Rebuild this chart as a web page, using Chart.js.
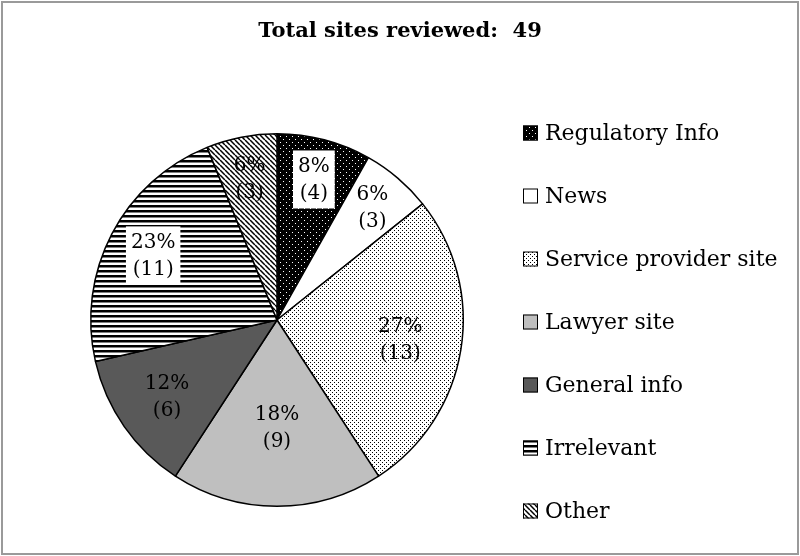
<!DOCTYPE html>
<html>
<head>
<meta charset="utf-8">
<script src="https://cdn.jsdelivr.net/npm/chart.js@4.4.0/dist/chart.umd.min.js"></script>
<style>
  html, body { margin: 0; padding: 0; background: #fff; }
  #wrap { width: 800px; height: 556px; }
</style>
</head>
<body>
<div id="wrap"><canvas id="sitesChart" width="800" height="556"></canvas></div>
<script>
// data
const categories = ['Regulatory Info', 'News', 'Service provider site', 'Lawyer site', 'General info', 'Irrelevant', 'Other'];
const siteCounts = [4, 3, 13, 9, 6, 11, 3];
const percentLabels = ['8%', '6%', '27%', '18%', '12%', '23%', '6%'];
const titleText = 'Total sites reviewed:  49';

// label placement (fraction of radius) and which labels sit on a white box
const labelRadius = [0.78, 0.79, 0.67, 0.58, 0.72, 0.75, 0.77];
const labelBoxed = [true, false, false, false, false, true, false];

const FONT = '"DejaVu Serif", "Liberation Serif", serif';

// fill patterns
function makePattern(w, h, bg, draw) {
    const c = document.createElement('canvas');
    c.width = w;
    c.height = h;
    const g = c.getContext('2d');
    g.fillStyle = bg;
    g.fillRect(0, 0, w, h);
    draw(g);
    return g.createPattern(c, 'repeat');
}

const regulatoryFill = makePattern(6, 6, '#000', g => {
    g.fillStyle = '#fff';
    g.fillRect(1, 1, 1, 1);
    g.fillRect(4, 4, 1, 1);
});
const serviceFill = makePattern(4, 4, '#fff', g => {
    g.fillStyle = '#000';
    g.fillRect(0, 0, 1, 1);
    g.fillRect(2, 2, 1, 1);
});
const irrelevantFill = makePattern(4, 5, '#fff', g => {
    g.fillStyle = '#000';
    g.fillRect(0, 0, 4, 2.5);
});
const otherFill = makePattern(5, 5, '#fff', g => {
    g.strokeStyle = '#000';
    g.lineWidth = 1.5;
    g.beginPath();
    for (const k of [-5, 0, 5]) {
        g.moveTo(k, 0);
        g.lineTo(k + 5, 5);
    }
    g.stroke();
});

const sliceColors = [regulatoryFill, '#ffffff', serviceFill, '#bfbfbf', '#595959', irrelevantFill, otherFill];

// frame, title and legend
const chartFrame = {
    id: 'chartFrame',
    beforeDraw(chart) {
        const ctx = chart.ctx;
        ctx.save();
        ctx.fillStyle = '#fff';
        ctx.fillRect(0, 0, chart.width, chart.height);
        ctx.strokeStyle = '#9a9a9a';
        ctx.lineWidth = 2;
        ctx.strokeRect(2, 2, chart.width - 4, chart.height - 4);
        ctx.restore();
    },
    afterDraw(chart) {
        const ctx = chart.ctx;
        ctx.save();
        ctx.fillStyle = '#000';
        ctx.textBaseline = 'middle';
        ctx.textAlign = 'center';
        ctx.font = 'bold 21px ' + FONT;
        ctx.fillText(titleText, 400, 32);

        ctx.textAlign = 'left';
        ctx.font = '22px ' + FONT;
        categories.forEach((name, i) => {
            const y = 133 + i * 63;
            ctx.fillStyle = sliceColors[i];
            ctx.fillRect(523, y - 7.5, 15, 15);
            ctx.strokeStyle = '#000';
            ctx.lineWidth = 1;
            ctx.strokeRect(523.5, y - 7, 14, 14);
            ctx.fillStyle = '#000';
            ctx.fillText(name, 545, y + 1);
        });
        ctx.restore();
    }
};

const sliceLabels = {
    id: 'sliceLabels',
    afterDatasetsDraw(chart) {
        const ctx = chart.ctx;
        const meta = chart.getDatasetMeta(0);
        ctx.save();
        ctx.font = '20px ' + FONT;
        ctx.textAlign = 'center';
        ctx.textBaseline = 'middle';
        meta.data.forEach((arc, i) => {
            const p = arc.getProps(['x', 'y', 'startAngle', 'endAngle', 'outerRadius']);
            const mid = (p.startAngle + p.endAngle) / 2;
            const d = p.outerRadius * labelRadius[i];
            const lx = p.x + Math.cos(mid) * d;
            const ly = p.y + Math.sin(mid) * d;
            const lines = [percentLabels[i], '(' + siteCounts[i] + ')'];
            if (labelBoxed[i]) {
                const w = Math.max(...lines.map(t => ctx.measureText(t).width)) + 10;
                ctx.fillStyle = '#fff';
                ctx.fillRect(lx - w / 2, ly - 29, w, 58);
            }
            ctx.fillStyle = '#000';
            ctx.fillText(lines[0], lx, ly - 13);
            ctx.fillText(lines[1], lx, ly + 14);
        });
        ctx.restore();
    }
};

const ctx = document.getElementById('sitesChart').getContext('2d');
const sitesChart = new Chart(ctx, {
    type: 'pie',
    data: {
        labels: categories,
        datasets: [{
            data: siteCounts,
            backgroundColor: sliceColors,
            borderColor: '#000',
            borderWidth: 1.5
        }]
    },
    options: {
        responsive: false,
        animation: false,
        layout: {
            padding: { top: 133, bottom: 49, left: 72, right: 318 }
        },
        plugins: {
            legend: { display: false },
            tooltip: { enabled: false },
            title: { display: false }
        }
    },
    plugins: [chartFrame, sliceLabels]
});
</script>
</body>
</html>
